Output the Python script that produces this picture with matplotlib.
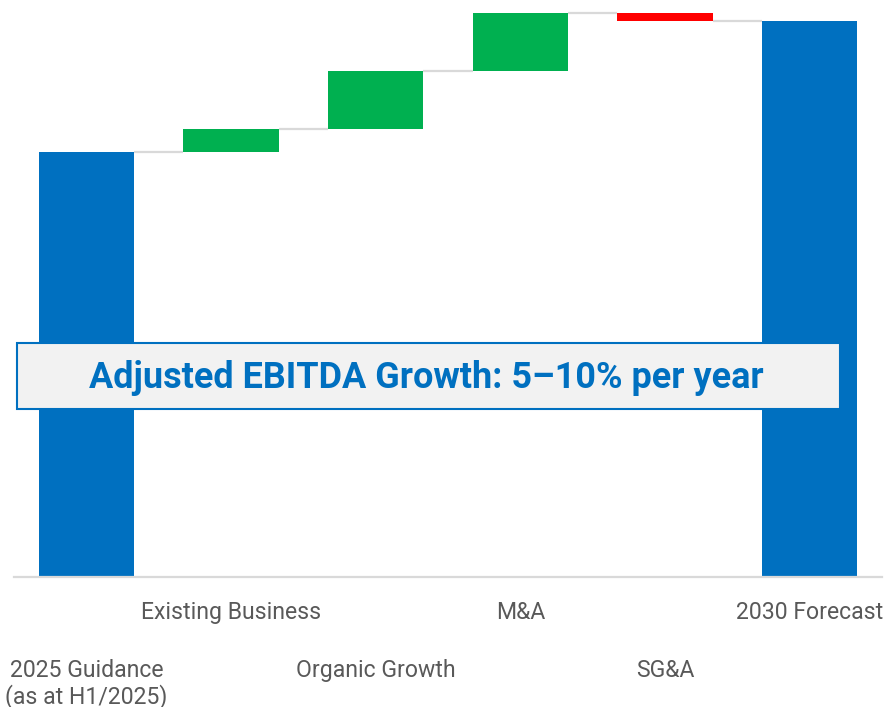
import matplotlib.pyplot as plt
from matplotlib.patches import Rectangle
from matplotlib.transforms import blended_transform_factory

# waterfall data (arbitrary units)
categories = ['2025 Guidance\n(as at H1/2025)', 'Existing Business', 'Organic Growth',
              'M&A', 'SG&A', '2030 Forecast']
start_value = 425
steps = [23, 58, 58, -8]
end_value = 556

blue = '#0070C0'
green = '#00B050'
red = '#FF0000'
grey_line = '#D9D9D9'

fig = plt.figure(figsize=(8.88, 7.07), dpi=100)
ax = fig.add_axes([14 / 888, 130 / 707, 868 / 888, 577 / 707])

width = 0.66
# totals
ax.bar(0, start_value, width=width, color=blue)
ax.bar(len(categories) - 1, end_value, width=width, color=blue)

# steps
level = start_value
levels = [level]
for i, s in enumerate(steps):
    ax.bar(i + 1, s, bottom=level, width=width, color=green if s > 0 else red)
    level += s
    levels.append(level)

# connector lines between bars
for i, lv in enumerate(levels):
    ax.plot([i + width / 2, i + 1 - width / 2], [lv, lv], color=grey_line, lw=1.6,
            solid_capstyle='butt', zorder=1)

ax.set_xlim(-0.5, len(categories) - 0.5)
ax.set_ylim(0, 577)

for sp in ['top', 'right', 'left']:
    ax.spines[sp].set_visible(False)
ax.spines['bottom'].set_color(grey_line)
ax.spines['bottom'].set_linewidth(1.6)
ax.set_xticks([])
ax.set_yticks([])

# staggered category labels (odd ones on the upper row)
trans = blended_transform_factory(ax.transData, fig.transFigure)
for i, c in enumerate(categories):
    base = 619 if i % 2 == 1 else 677
    for j, line in enumerate(c.split('\n')):
        ax.text(i, (707 - base - 26 * j) / 707, line, transform=trans, fontsize=16.6,
                color='#595959', family='Roboto', ha='center', va='baseline', clip_on=False)

# highlight box
box = Rectangle((17 / 888, 298 / 707), 823 / 888, 66 / 707, transform=fig.transFigure,
                facecolor='#F2F2F2', edgecolor=blue, lw=1.5, zorder=5)
fig.patches.append(box)
fig.text(426 / 888, 328.5 / 707, 'Adjusted EBITDA Growth: 5–10% per year', fontsize=25.9,
         fontweight='bold', color=blue, family='Roboto', ha='center', va='center', zorder=6)

plt.savefig('out.png', dpi=100)
